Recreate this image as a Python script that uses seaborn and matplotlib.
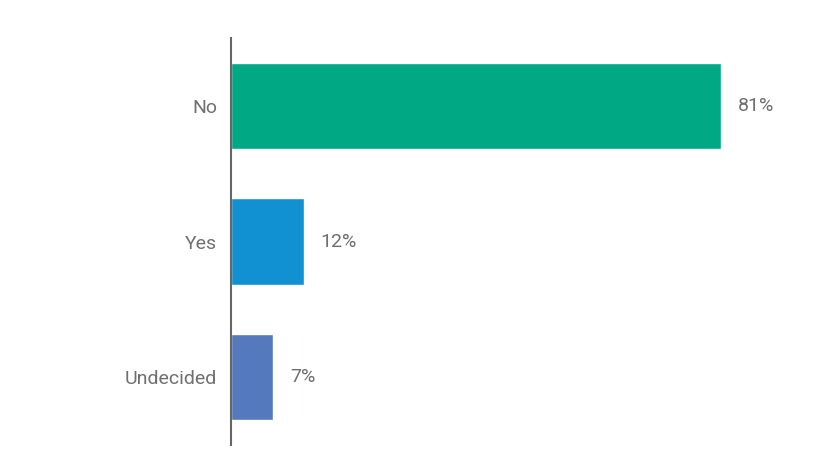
import matplotlib
matplotlib.use("Agg")
import matplotlib.pyplot as plt
import seaborn as sns
import pandas as pd

categories = ["No", "Yes", "Undecided"]
values = [81, 12, 7]
colors = ["#00A884", "#1190D2", "#5579BD"]

sns.set_style("white")
plt.rcParams["font.family"] = ["Roboto", "DejaVu Sans"]

df = pd.DataFrame({"answer": categories, "pct": values})

fig = plt.figure(figsize=(8.27, 4.74), dpi=100)
ax = fig.add_axes([231 / 827, 29 / 474, 593 / 827, 407 / 474])
sns.barplot(data=df, x="pct", y="answer", hue="answer", palette=colors,
            width=0.635, legend=False, ax=ax, saturation=1)

for i, v in enumerate(values):
    ax.text(v + 2.8, i, f"{v}%", va="center", ha="left", fontsize=14, color="#6f6f6f")

ax.set_xlim(0, 98)
ax.set_ylim(2.5, -0.5)
ax.set_xlabel("")
ax.set_ylabel("")
ax.set_xticks([])
ax.tick_params(axis="y", length=0, pad=10, labelsize=14, labelcolor="#6f6f6f")
for s in ["top", "right", "bottom"]:
    ax.spines[s].set_visible(False)
ax.spines["left"].set_color("#666666")
ax.spines["left"].set_linewidth(1.5)

fig.savefig("out.png", dpi=100)
